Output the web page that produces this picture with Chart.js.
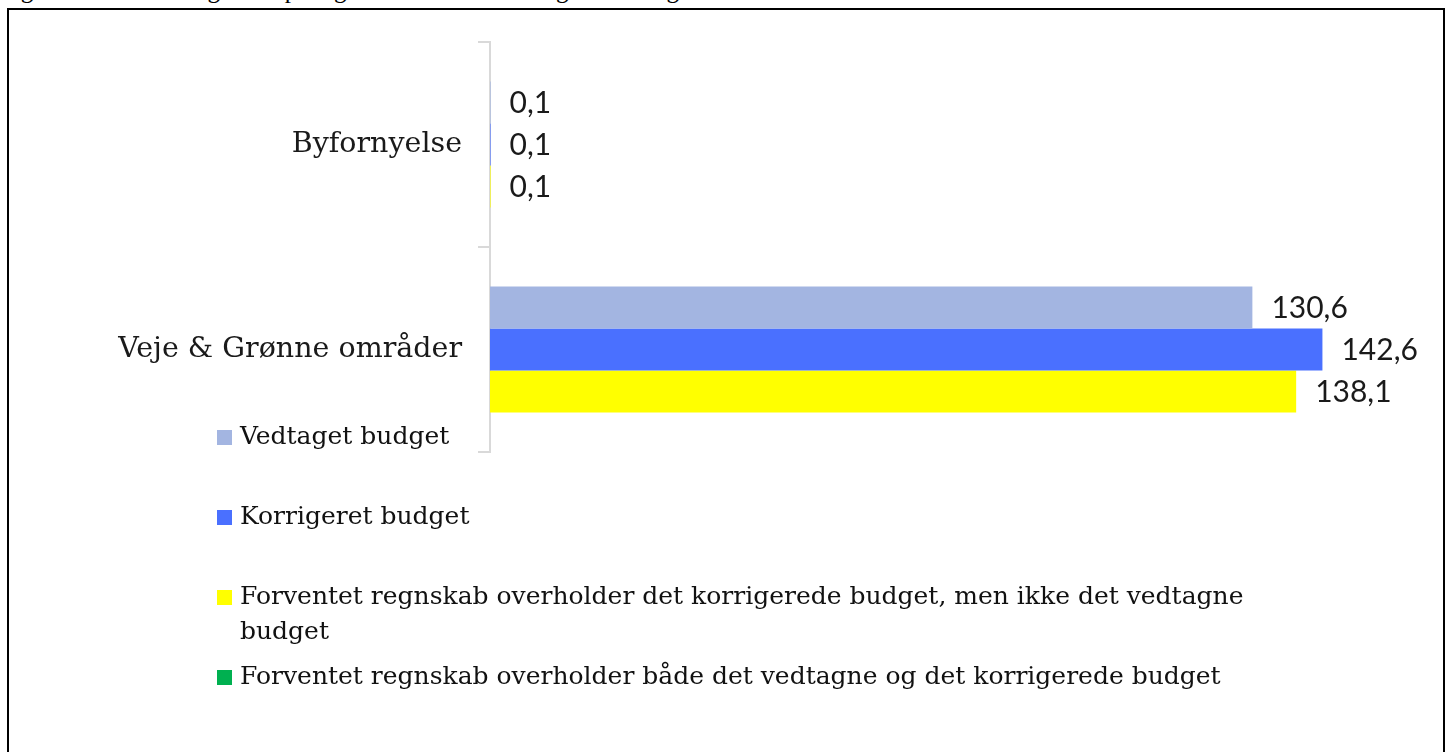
<!DOCTYPE html>
<html lang="da">
<head>
<meta charset="utf-8">
<script src="https://cdn.jsdelivr.net/npm/chart.js@4.4.1/dist/chart.umd.min.js"></script>
<style>
  html, body { margin: 0; padding: 0; background: #fff; overflow: hidden; }
  .caption {
    position: absolute; left: 0; top: -23px;
    font: 25px 'Liberation Serif', serif; line-height: 25px;
    white-space: nowrap; color: #000;
  }
  .frame {
    position: absolute; left: 7px; top: 8px; width: 1438px; height: 800px;
    border: 2px solid #000; box-sizing: border-box;
  }
  #chart { position: absolute; left: 0; top: 0; }
</style>
</head>
<body>
<div class="caption">Figur 1: Forventet regnskab på fagområder ift. det korrigerede budget</div>
<div class="frame"></div>
<canvas id="chart" width="1450" height="752"></canvas>
<script>
// Data (mio. kr.)
const categories = ['Byfornyelse', 'Veje & Grønne områder'];
const seriesNames = [
    'Vedtaget budget',
    'Korrigeret budget',
    'Forventet regnskab overholder det korrigerede budget, men ikke det vedtagne budget',
    'Forventet regnskab overholder både det vedtagne og det korrigerede budget'
];
const vedtaget = [0.1, 130.6];
const korrigeret = [0.1, 142.6];
const overholderKorrigeret = [0.1, 138.1];
const overholderBegge = [null, null];
const seriesColors = ['#A3B5E1', '#4A70FF', '#FFFF00', '#00B050'];

const fmt = v => v.toFixed(1).replace('.', ',');

// Værdier til højre for søjlerne
const valueLabels = {
    id: 'valueLabels',
    afterDatasetsDraw(chart) {
        const ctx = chart.ctx;
        ctx.save();
        ctx.font = '30px Lato, sans-serif';
        ctx.fillStyle = '#1a1a1a';
        ctx.textAlign = 'left';
        ctx.textBaseline = 'middle';
        chart.data.datasets.forEach((ds, i) => {
            const meta = chart.getDatasetMeta(i);
            meta.data.forEach((bar, j) => {
                const v = ds.data[j];
                if (v === null || v === undefined) return;
                ctx.fillText(fmt(v), bar.x + 19, bar.y + 1);
            });
        });
        ctx.restore();
    }
};

// Forklaring i bunden, tegnet manuelt som i originalen
const bottomLegend = {
    id: 'bottomLegend',
    afterDraw(chart) {
        const ctx = chart.ctx;
        const rows = [437, 517, 597, 677];
        const maxW = 1030;
        ctx.save();
        ctx.font = '25px "DejaVu Serif", serif';
        ctx.textBaseline = 'middle';
        ctx.textAlign = 'left';
        chart.data.datasets.forEach((ds, i) => {
            const y = rows[i];
            ctx.fillStyle = ds.backgroundColor;
            ctx.fillRect(217, y - 7, 15, 15);
            ctx.fillStyle = '#111';
            // ombryd lang tekst
            const words = ds.label.split(' ');
            let line = '';
            let ly = y;
            words.forEach(w => {
                const test = line ? line + ' ' + w : w;
                if (ctx.measureText(test).width > maxW && line) {
                    ctx.fillText(line, 240, ly);
                    line = w;
                    ly += 35;
                } else {
                    line = test;
                }
            });
            ctx.fillText(line, 240, ly);
        });
        ctx.restore();
    }
};

const dataSets = [vedtaget, korrigeret, overholderKorrigeret, overholderBegge].map((d, i) => ({
    label: seriesNames[i],
    data: d,
    backgroundColor: seriesColors[i],
    borderWidth: 0,
    skipNull: true,
    barPercentage: 1,
    categoryPercentage: 0.615
}));

new Chart(document.getElementById('chart'), {
    type: 'bar',
    data: { labels: categories, datasets: dataSets },
    options: {
        responsive: false,
        animation: false,
        indexAxis: 'y',
        layout: { padding: { top: 42, bottom: 300, left: 0, right: 26 } },
        plugins: {
            legend: { display: false },
            tooltip: { enabled: false }
        },
        scales: {
            x: {
                display: false,
                min: 0,
                max: 160
            },
            y: {
                afterFit(scale) { scale.width = 490; },
                border: { display: true, color: '#d9d9d9', width: 2 },
                grid: {
                    drawOnChartArea: false,
                    drawTicks: true,
                    tickLength: 12,
                    color: '#d9d9d9',
                    lineWidth: 2
                },
                ticks: {
                    padding: 16,
                    color: '#1a1a1a',
                    font: { family: '"DejaVu Serif", serif', size: 28.5 }
                }
            }
        }
    },
    plugins: [valueLabels, bottomLegend]
});
</script>
</body>
</html>
